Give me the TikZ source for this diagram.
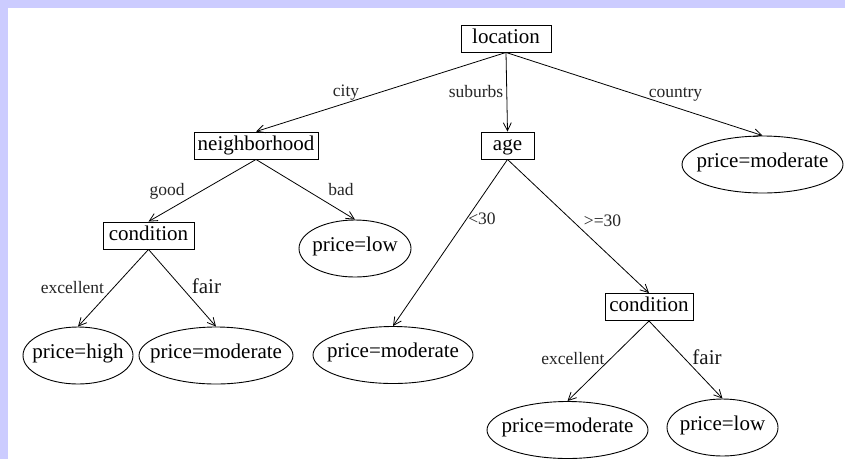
\documentclass[tikz,border=0pt]{standalone}
\usepackage{fontspec}
\setmainfont{Liberation Serif}
\usetikzlibrary{arrows.meta,shapes.geometric}
\definecolor{frame}{HTML}{CCCCFF}
\newcommand{\leaftext}[1]{\makebox[0pt]{#1}}
\tikzset{
  test/.style={draw, rectangle, line width=0.9pt, inner sep=0pt,
    minimum height=27pt, text height=14pt, text depth=5pt,
    font=\fontsize{21}{24}\selectfont},
  leaf/.style={draw, ellipse, line width=0.9pt, inner sep=0pt,
    minimum height=57pt, text height=14pt, text depth=9pt,
    font=\fontsize{21}{24}\selectfont},
  edge/.style={line width=0.8pt, -{Straight Barb[length=8pt,width=8pt]}},
  elabel/.style={anchor=base, inner sep=0pt, text=black!85,
    font=\fontsize{17.5}{20}\selectfont},
  biglabel/.style={elabel, text=black!90, font=\fontsize{21}{24}\selectfont}
}
\begin{document}
\begin{tikzpicture}[x=1pt, y=-1pt]
  % page frame: lavender strips on the top and left
  \useasboundingbox (0,0) rectangle (845,459);
  \fill[frame] (0,0) rectangle (845,459);
  \fill[white] (8,8) rectangle (845,459);

  % attribute tests
  \node[test, minimum width=90pt]  (loc)  at (506,38.5)  {location};
  \node[test, minimum width=124pt] (nbh)  at (256,145.5) {neighborhood};
  \node[test, minimum width=53pt]  (age)  at (507.5,145.5) {age};
  \node[test, minimum width=91pt]  (cnda) at (148.5,235.5) {condition};
  \node[test, minimum width=88pt]  (cndb) at (649,307)   {condition};

  % outcomes
  \node[leaf, minimum width=161pt] (ctry) at (762.5,164.5) {\leaftext{price=moderate}};
  \node[leaf, minimum width=112pt] (lowa) at (355,248.5)   {\leaftext{price=low}};
  \node[leaf, minimum width=110pt] (high) at (78,355.5)    {\leaftext{price=high}};
  \node[leaf, minimum width=154pt] (moda) at (216,355.5)   {\leaftext{price=moderate}};
  \node[leaf, minimum width=160pt] (modb) at (393,355)     {\leaftext{price=moderate}};
  \node[leaf, minimum width=161pt] (modc) at (567.5,430)   {\leaftext{price=moderate}};
  \node[leaf, minimum width=111pt] (lowb) at (722.5,427.5) {\leaftext{price=low}};

  % branches
  \draw[edge] (loc.south)  -- (nbh.north);
  \draw[edge] (loc.south)  -- (age.north);
  \draw[edge] (loc.south)  -- (ctry.north);
  \draw[edge] (nbh.south)  -- (cnda.north);
  \draw[edge] (nbh.south)  -- (lowa.north);
  \draw[edge] (age.south)  -- (modb.north);
  \draw[edge] (age.south)  -- (cndb.north);
  \draw[edge] (cnda.south) -- (high.north);
  \draw[edge] (cnda.south) -- (moda.north);
  \draw[edge] (cndb.south) -- (modc.north);
  \draw[edge] (cndb.south) -- (lowb.north);

  % branch labels
  \node[elabel] (lcity) at (346,96)  {city};
  \node[elabel] (lsub)  at (476,97)  {suburbs};
  \node[elabel] (lctry) at (675.5,97) {country};
  \node[elabel] (lgood) at (167,195) {good};
  \node[elabel] (lbad)  at (341,195) {bad};
  \node[elabel] (llt)   at (482,224) {<30};
  \node[elabel] (lge)   at (602.5,226) {>=30};
  \node[elabel] (lexa)  at (72.5,293) {excellent};
  \node[biglabel] (lfa) at (206.5,293) {fair};
  \node[elabel] (lexb)  at (573,364) {excellent};
  \node[biglabel] (lfb) at (707,364) {fair};
\end{tikzpicture}
\end{document}
